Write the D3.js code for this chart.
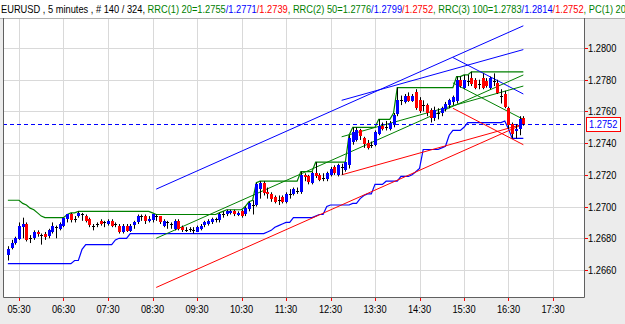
<!DOCTYPE html>
<html>
<head>
<meta charset="utf-8">
<script src="https://cdn.jsdelivr.net/npm/d3@7/dist/d3.min.js"></script>
<style>
	body { margin: 0; background: #ececec; }
	svg { display: block; font-family: "Liberation Sans", Arial, sans-serif; }
</style>
</head>
<body>
<div id="chart"></div>
<script>
// EURUSD 5 minute bars, 05:15 .. 16:50
var symbol = "EURUSD";
var barMinutes = 5;
var firstBar = "05:15";
var totalBars = 324;

var opens = [
	1.2669,1.2674,1.2677,1.2680,1.2687,1.2689,1.2680,1.2680,1.2684,1.2682,
	1.2683,1.2681,1.2684,1.2687,1.2686,1.2688,1.2692,1.2695,1.2692,1.2694,
	1.2695,1.2694,1.2692,1.2688,1.2689,1.2691,1.2690,1.2689,1.2691,1.2689,
	1.2688,1.2684,1.2688,1.2685,1.2688,1.2690,1.2694,1.2694,1.2691,1.2691,
	1.2694,1.2694,1.2688,1.2690,1.2689,1.2686,1.2691,1.2687,1.2685,1.2686,
	1.2685,1.2684,1.2686,1.2688,1.2689,1.2690,1.2692,1.2691,1.2695,1.2695,
	1.2696,1.2697,1.2695,1.2697,1.2695,1.2698,1.2701,1.2701,1.2711,1.2715,
	1.2709,1.2708,1.2706,1.2704,1.2706,1.2703,1.2708,1.2708,1.2710,1.2709,
	1.2720,1.2719,1.2715,1.2721,1.2720,1.2718,1.2717,1.2720,1.2725,1.2720,
	1.2725,1.2723,1.2726,1.2741,1.2742,1.2748,1.2743,1.2740,1.2739,1.2739,
	1.2746,1.2751,1.2750,1.2749,1.2752,1.2758,1.2767,1.2766,1.2770,1.2767,
	1.2772,1.2767,1.2764,1.2764,1.2761,1.2756,1.2759,1.2759,1.2762,1.2764,
	1.2766,1.2767,1.2780,1.2775,1.2779,1.2781,1.2780,1.2777,1.2781,1.2779,
	1.2775,1.2779,1.2778,1.2770,1.2771,1.2762,1.2752,1.2748,1.2749,1.2756
];
var highs = [
	1.2675,1.2679,1.2681,1.2690,1.2693,1.2690,1.2682,1.2685,1.2685,1.2683,
	1.2684,1.2686,1.2690,1.2688,1.2690,1.2693,1.2695,1.2696,1.2694,1.2697,
	1.2696,1.2695,1.2693,1.2689,1.2690,1.2692,1.2691,1.2692,1.2692,1.2690,
	1.2689,1.2689,1.2689,1.2689,1.2691,1.2695,1.2695,1.2695,1.2694,1.2695,
	1.2695,1.2694,1.2692,1.2691,1.2690,1.2692,1.2692,1.2688,1.2687,1.2687,
	1.2687,1.2688,1.2689,1.2691,1.2692,1.2693,1.2693,1.2696,1.2697,1.2698,
	1.2698,1.2698,1.2697,1.2698,1.2700,1.2703,1.2704,1.2715,1.2716,1.2716,
	1.2712,1.2709,1.2707,1.2707,1.2707,1.2709,1.2711,1.2712,1.2712,1.2722,
	1.2721,1.2720,1.2722,1.2728,1.2721,1.2721,1.2722,1.2725,1.2726,1.2727,
	1.2727,1.2728,1.2745,1.2750,1.2750,1.2749,1.2744,1.2742,1.2741,1.2748,
	1.2755,1.2753,1.2754,1.2754,1.2759,1.2775,1.2770,1.2771,1.2772,1.2771,
	1.2774,1.2769,1.2767,1.2765,1.2762,1.2763,1.2762,1.2763,1.2766,1.2768,
	1.2770,1.2782,1.2782,1.2783,1.2783,1.2785,1.2781,1.2780,1.2784,1.2781,
	1.2782,1.2784,1.2780,1.2774,1.2773,1.2763,1.2753,1.2752,1.2757,1.2757
];
var lows = [
	1.2666,1.2673,1.2676,1.2679,1.2680,1.2678,1.2677,1.2679,1.2681,1.2676,
	1.2679,1.2680,1.2683,1.2680,1.2685,1.2687,1.2690,1.2690,1.2690,1.2693,
	1.2691,1.2690,1.2687,1.2685,1.2687,1.2688,1.2687,1.2688,1.2687,1.2687,
	1.2683,1.2683,1.2684,1.2684,1.2686,1.2689,1.2691,1.2689,1.2690,1.2690,
	1.2691,1.2689,1.2687,1.2686,1.2686,1.2685,1.2685,1.2684,1.2684,1.2684,
	1.2683,1.2684,1.2685,1.2687,1.2688,1.2689,1.2690,1.2690,1.2693,1.2694,
	1.2695,1.2694,1.2694,1.2693,1.2694,1.2697,1.2695,1.2700,1.2705,1.2707,
	1.2705,1.2703,1.2702,1.2701,1.2702,1.2702,1.2705,1.2707,1.2708,1.2708,
	1.2716,1.2714,1.2714,1.2718,1.2716,1.2716,1.2716,1.2719,1.2720,1.2719,
	1.2720,1.2722,1.2724,1.2739,1.2741,1.2742,1.2737,1.2736,1.2737,1.2738,
	1.2745,1.2748,1.2748,1.2748,1.2750,1.2757,1.2764,1.2765,1.2766,1.2766,
	1.2761,1.2759,1.2760,1.2757,1.2753,1.2754,1.2755,1.2757,1.2760,1.2762,
	1.2764,1.2765,1.2775,1.2774,1.2776,1.2776,1.2774,1.2774,1.2774,1.2775,
	1.2774,1.2776,1.2771,1.2765,1.2762,1.2749,1.2743,1.2743,1.2745,1.2751
];
var closes = [
	1.2673,1.2677,1.2680,1.2688,1.2689,1.2679,1.2680,1.2684,1.2683,1.2682,
	1.2681,1.2685,1.2688,1.2687,1.2689,1.2693,1.2695,1.2691,1.2692,1.2696,
	1.2695,1.2691,1.2688,1.2688,1.2689,1.2689,1.2690,1.2691,1.2688,1.2689,
	1.2684,1.2688,1.2685,1.2688,1.2690,1.2694,1.2694,1.2691,1.2692,1.2695,
	1.2694,1.2690,1.2691,1.2690,1.2689,1.2691,1.2686,1.2685,1.2685,1.2686,
	1.2685,1.2687,1.2688,1.2690,1.2691,1.2692,1.2692,1.2695,1.2695,1.2697,
	1.2697,1.2695,1.2696,1.2694,1.2699,1.2702,1.2701,1.2714,1.2715,1.2709,
	1.2708,1.2705,1.2703,1.2704,1.2703,1.2708,1.2708,1.2711,1.2710,1.2720,
	1.2719,1.2715,1.2721,1.2719,1.2717,1.2718,1.2721,1.2724,1.2721,1.2726,
	1.2725,1.2728,1.2743,1.2747,1.2748,1.2744,1.2739,1.2737,1.2739,1.2747,
	1.2751,1.2749,1.2750,1.2753,1.2758,1.2767,1.2767,1.2770,1.2767,1.2770,
	1.2762,1.2760,1.2764,1.2759,1.2756,1.2761,1.2759,1.2762,1.2765,1.2767,
	1.2769,1.2780,1.2776,1.2780,1.2779,1.2777,1.2775,1.2777,1.2775,1.2776,
	1.2781,1.2779,1.2772,1.2770,1.2763,1.2751,1.2746,1.2749,1.2755,1.2752
];

// the 19 bars before the visible window (only used by the price channel)
var priorHighs = [1.2703,1.2704,1.2704,1.2704,1.2702,1.2701,1.2699,1.2698,1.2696,1.2694,
	1.2692,1.2690,1.2688,1.2685,1.2681,1.2677,1.2674,1.2672,1.2673];
var priorLows = [1.2696,1.2697,1.2698,1.2696,1.2694,1.2692,1.2690,1.2689,1.2687,1.2685,
	1.2683,1.2681,1.2678,1.2674,1.2670,1.2668,1.2666,1.2664,1.2667];

// raff regression channels, values read at first / last bar
var rrcPeriods = [20, 50, 100];
var rrcMidStart = [1.2778, 1.2744, 1.2680];
var rrcMidEnd = [1.2755, 1.2776, 1.2783];
var rrcUpperEnd = [1.2771, 1.2799, 1.2814];
var rrcLowerEnd = [1.2739, 1.2752, 1.2752];

var pcPeriod = 20;

var hourTicks = ["05:30","06:30","07:30","08:30","09:30","10:30","11:30","12:30","13:30","14:30","15:30","16:30","17:30"];
var priceTicks = [1.2660, 1.2680, 1.2700, 1.2720, 1.2740, 1.2760, 1.2780, 1.2800];

var colors = { up: "#0000ff", down: "#ff0000", wick: "#000000", green: "#008000", blue: "#0000ff", red: "#ff0000", grid: "#d9d9d9", frame: "#606060" };

var width = 625, height = 324;
var plot = { left: 3, right: 584, top: 18, bottom: 297 };
var squeeze = 0.845; // the original font is narrower than Arial

var parseTime = d3.timeParse("%H:%M");
var fmt4 = d3.format(".4f");

var t0 = parseTime(firstBar);
var bars = closes.map(function(c, i) {
	return { t: d3.timeMinute.offset(t0, i * barMinutes), o: opens[i], h: highs[i], l: lows[i], c: c };
});

var x = d3.scaleTime()
	.domain([parseTime("05:30"), parseTime("17:30")])
	.range([19, 553]);
var y = d3.scaleLinear()
	.domain([1.2660, 1.2800])
	.range([270, 48]);

function px(v) { return Math.round(v) + 0.5; }
function place(fx, fy) {
	return function(d) { return "translate(" + fx(d) + "," + fy(d) + ") scale(" + squeeze + ",1)"; };
}

var svg = d3.select("#chart").append("svg")
	.attr("width", width)
	.attr("height", height);

svg.append("rect").attr("width", width).attr("height", height).attr("fill", "#ececec");
svg.append("rect").attr("width", width).attr("height", plot.top).attr("fill", "#ffffff");
svg.append("rect")
	.attr("x", plot.left).attr("y", plot.top)
	.attr("width", plot.right - plot.left).attr("height", plot.bottom - plot.top)
	.attr("fill", "#ffffff");

svg.append("clipPath").attr("id", "plotclip").append("rect")
	.attr("x", plot.left).attr("y", plot.top)
	.attr("width", plot.right - plot.left).attr("height", plot.bottom - plot.top);

// grid
var grid = svg.append("g").attr("class", "grid");
grid.selectAll("line.v").data(hourTicks).enter().append("line")
	.attr("x1", function(d) { return px(x(parseTime(d))); })
	.attr("x2", function(d) { return px(x(parseTime(d))); })
	.attr("y1", plot.top).attr("y2", plot.bottom)
	.attr("stroke", colors.grid);
grid.selectAll("line.h").data(priceTicks).enter().append("line")
	.attr("y1", function(d) { return px(y(d)); })
	.attr("y2", function(d) { return px(y(d)); })
	.attr("x1", plot.left).attr("x2", plot.right)
	.attr("stroke", colors.grid);

var layer = svg.append("g").attr("clip-path", "url(#plotclip)");

// price channel
var allHighs = priorHighs.concat(highs), allLows = priorLows.concat(lows);
var off = priorHighs.length;
bars.forEach(function(b, i) {
	b.pcUp = d3.max(allHighs.slice(i + off - pcPeriod + 1, i + off + 1));
	b.pcLo = d3.min(allLows.slice(i + off - pcPeriod + 1, i + off + 1));
});

var line = function(key) {
	return d3.line()
		.x(function(d) { return x(d.t); })
		.y(function(d) { return y(d[key]); });
};
layer.append("path").datum(bars).attr("d", line("pcUp"))
	.attr("fill", "none").attr("stroke", colors.green).attr("stroke-width", 1.2);
layer.append("path").datum(bars).attr("d", line("pcLo"))
	.attr("fill", "none").attr("stroke", colors.blue).attr("stroke-width", 1.2);

// regression channels
rrcPeriods.forEach(function(n, k) {
	var first = bars[bars.length - n], last = bars[bars.length - 1];
	var upOff = rrcUpperEnd[k] - rrcMidEnd[k], loOff = rrcMidEnd[k] - rrcLowerEnd[k];
	var chans = [
		{ a: rrcMidStart[k] + upOff, b: rrcUpperEnd[k], c: colors.blue },
		{ a: rrcMidStart[k], b: rrcMidEnd[k], c: colors.green },
		{ a: rrcMidStart[k] - loOff, b: rrcLowerEnd[k], c: colors.red }
	];
	layer.selectAll(null).data(chans).enter().append("line")
		.attr("x1", x(first.t)).attr("x2", x(last.t))
		.attr("y1", function(d) { return y(d.a); })
		.attr("y2", function(d) { return y(d.b); })
		.attr("stroke", function(d) { return d.c; })
		.attr("stroke-width", 1);
});

// last price
var lastClose = closes[closes.length - 1];
layer.append("line")
	.attr("x1", plot.left).attr("x2", plot.right)
	.attr("y1", px(y(lastClose))).attr("y2", px(y(lastClose)))
	.attr("stroke", colors.blue).attr("stroke-dasharray", "4,3");

// candles
var candle = layer.selectAll("g.candle").data(bars).enter().append("g");
candle.append("line")
	.attr("x1", function(d) { return px(x(d.t)); })
	.attr("x2", function(d) { return px(x(d.t)); })
	.attr("y1", function(d) { return y(d.h); })
	.attr("y2", function(d) { return y(d.l); })
	.attr("stroke", colors.wick);
candle.append("rect")
	.attr("x", function(d) { return Math.round(x(d.t)) - 1; })
	.attr("width", 3)
	.attr("y", function(d) { return Math.round(y(Math.max(d.o, d.c))); })
	.attr("height", function(d) { return Math.max(1, Math.round(Math.abs(y(d.o) - y(d.c)))); })
	.attr("fill", function(d) { return d.c > d.o ? colors.up : d.c < d.o ? colors.down : colors.wick; });

// frame
svg.append("line").attr("x1", 0).attr("x2", width).attr("y1", plot.top + 0.5).attr("y2", plot.top + 0.5).attr("stroke", "#b0b0b0");
svg.append("path")
	.attr("d", "M" + (plot.left + 0.5) + "," + plot.top + "V" + (plot.bottom + 0.5) + "H" + (plot.right + 0.5) + "V" + plot.top)
	.attr("fill", "none").attr("stroke", colors.frame);

// axes
var xAxis = svg.append("g").attr("class", "x-axis");
xAxis.selectAll("line").data(hourTicks).enter().append("line")
	.attr("x1", function(d) { return px(x(parseTime(d))); })
	.attr("x2", function(d) { return px(x(parseTime(d))); })
	.attr("y1", plot.bottom + 1).attr("y2", plot.bottom + 4)
	.attr("stroke", colors.red);
xAxis.selectAll("text").data(hourTicks).enter().append("text")
	.attr("transform", place(function(d) { return x(parseTime(d)); }, function() { return 313; }))
	.attr("text-anchor", "middle")
	.attr("font-size", 11)
	.text(function(d) { return d; });

var yAxis = svg.append("g").attr("class", "y-axis");
yAxis.selectAll("line").data(priceTicks).enter().append("line")
	.attr("x1", plot.right + 1).attr("x2", plot.right + 4)
	.attr("y1", function(d) { return px(y(d)); })
	.attr("y2", function(d) { return px(y(d)); })
	.attr("stroke", colors.red);
yAxis.selectAll("text").data(priceTicks).enter().append("text")
	.attr("transform", place(function() { return plot.right + 4; }, function(d) { return y(d) + 4; }))
	.attr("font-size", 11)
	.text(function(d) { return fmt4(d); });

// last price marker
svg.append("rect")
	.attr("x", plot.right + 2.5).attr("y", Math.round(y(lastClose)) - 6.5)
	.attr("width", 34).attr("height", 14)
	.attr("fill", "#ffffff").attr("stroke", colors.red);
svg.append("text")
	.attr("transform", "translate(" + (plot.right + 5) + "," + (y(lastClose) + 4) + ") scale(" + squeeze + ",1)")
	.attr("font-size", 11).attr("fill", colors.blue)
	.text(fmt4(lastClose));

// title
var last = bars[bars.length - 1];
var title = [{ t: symbol + " , " + barMinutes + " minutes , # " + bars.length + " / " + totalBars + ", ", c: "#000000" }];
rrcPeriods.forEach(function(n, k) {
	title.push({ t: (k ? ", " : "") + "RRC(" + (k + 1) + ") " + n + "=" + fmt4(rrcMidEnd[k]), c: colors.green });
	title.push({ t: "/" + fmt4(rrcUpperEnd[k]), c: colors.blue });
	title.push({ t: "/" + fmt4(rrcLowerEnd[k]), c: colors.red });
});
title.push({ t: ", PC(1) " + pcPeriod + "=" + fmt4(last.pcUp), c: colors.green });
title.push({ t: "/" + fmt4(last.pcLo), c: colors.blue });

svg.append("clipPath").attr("id", "titleclip").append("rect")
	.attr("width", width).attr("height", plot.top);
svg.append("g").attr("clip-path", "url(#titleclip)")
	.append("text")
	.attr("transform", "translate(1,13) scale(" + squeeze + ",1)")
	.attr("font-size", 11)
	.selectAll("tspan").data(title).enter().append("tspan")
	.attr("fill", function(d) { return d.c; })
	.text(function(d) { return d.t; });
</script>
</body>
</html>
